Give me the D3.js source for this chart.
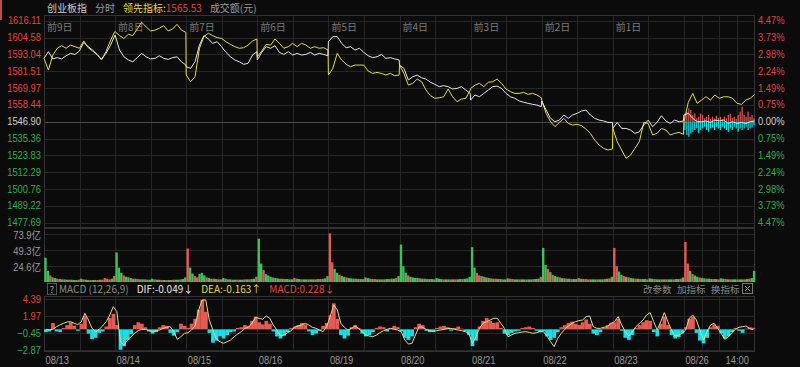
<!DOCTYPE html>
<html><head><meta charset="utf-8">
<script src="https://cdn.jsdelivr.net/npm/d3@7"></script>
<style>html,body{margin:0;padding:0;background:#0b0b0b;overflow:hidden}</style>
</head><body><svg id="c" width="800" height="367"></svg>
<script>
const dates = ["08/13","08/14","08/15","08/16","08/19","08/20","08/21","08/22","08/23","08/26"];
const dayTags = ["前9日","前8日","前7日","前6日","前5日","前4日","前3日","前2日","前1日"];
const priceTicks = [1616.11,1604.58,1593.04,1581.51,1569.97,1558.44,1546.90,1535.36,1523.83,1512.29,1500.76,1489.22,1477.69];
const pctTicks = ["4.47%","3.73%","2.98%","2.24%","1.49%","0.75%","0.00%","0.75%","1.49%","2.24%","2.98%","3.73%","4.47%"];
const prevClose = 1546.90;
const volTicks = [73.9, 49.3, 24.6];
const volTickLabels = ["73.9亿","49.3亿","24.6亿"];
const macdTicks = [4.39, 1.97, -0.45, -2.87];

// 创业板指 (white), 17 samples per day
const indexLine = [
 [1590.3,1594.9,1589.9,1590.8,1589.9,1592.1,1593.7,1593.0,1595.3,1601.3,1598.3,1596.0,1593.0,1589.6,1593.7,1599.0,1605.9],
 [1606.3,1596.0,1591.4,1589.2,1588.0,1590.8,1593.7,1591.4,1589.9,1590.3,1592.1,1590.3,1589.6,1590.8,1591.4,1588.0,1585.7],
 [1584.6,1583.4,1588.0,1599.4,1605.9,1603.6,1600.6,1601.7,1598.3,1594.4,1591.4,1589.2,1588.0,1586.2,1586.9,1592.6,1594.9],
 [1589.2,1594.4,1598.3,1597.2,1599.0,1594.4,1593.0,1594.9,1592.6,1593.7,1592.6,1593.0,1594.4,1592.6,1593.7,1593.0,1592.1],
 [1601.7,1605.2,1605.2,1600.6,1597.6,1598.3,1596.0,1597.2,1594.4,1592.1,1590.8,1591.4,1593.0,1590.3,1590.8,1589.9,1589.2],
 [1585.7,1583.4,1575.5,1577.7,1578.9,1577.0,1576.1,1573.9,1572.5,1570.9,1571.6,1570.9,1569.3,1569.7,1570.9,1568.6,1566.3],
 [1561.7,1565.2,1564.0,1566.3,1568.6,1570.9,1571.3,1569.7,1566.3,1564.0,1562.9,1561.1,1560.2,1559.5,1558.8,1558.3,1557.2],
 [1561.1,1554.9,1549.2,1546.9,1548.0,1551.5,1549.2,1551.5,1552.6,1554.2,1554.9,1551.5,1549.2,1548.0,1547.4,1546.4,1546.4],
 [1542.3,1546.4,1542.3,1542.3,1541.2,1538.9,1540.0,1544.6,1548.0,1543.5,1546.4,1551.0,1547.4,1545.7,1548.0,1546.9,1547.4],
 [1551.5,1552.6,1549.2,1546.9,1546.9,1547.4,1546.4,1548.0,1547.4,1548.0,1545.7,1546.9,1545.7,1546.4,1545.7,1546.9,1547.4]
];
// 领先指标 (yellow)
const leadLine = [
 [1590.3,1582.3,1592.6,1597.2,1599.0,1597.2,1599.4,1598.3,1597.2,1602.2,1597.6,1595.3,1593.0,1589.2,1594.9,1602.2,1608.6],
 [1608.6,1605.9,1604.0,1606.8,1605.9,1610.4,1615.0,1612.0,1609.1,1609.7,1610.9,1612.7,1609.1,1610.4,1613.6,1609.7,1608.1],
 [1578.9,1574.3,1577.7,1597.2,1605.2,1607.5,1605.9,1604.5,1604.0,1601.7,1599.9,1598.3,1597.2,1597.6,1599.4,1602.2,1603.6],
 [1591.4,1595.3,1599.9,1599.4,1603.6,1600.6,1597.2,1598.3,1600.6,1598.3,1600.6,1599.4,1597.2,1598.3,1597.2,1597.6,1596.0],
 [1578.9,1583.4,1593.7,1589.2,1586.2,1584.6,1585.7,1585.7,1585.7,1581.6,1580.0,1580.7,1580.0,1578.9,1580.0,1578.4,1578.9],
 [1585.7,1580.0,1572.0,1573.2,1576.1,1574.3,1568.6,1564.7,1562.9,1563.3,1564.0,1569.3,1564.0,1560.6,1562.4,1562.9,1568.6],
 [1569.7,1572.0,1573.2,1570.9,1573.9,1574.3,1576.1,1573.2,1569.3,1567.5,1566.3,1566.3,1567.0,1565.6,1566.3,1565.2,1563.3],
 [1561.7,1552.6,1546.9,1543.5,1546.4,1549.2,1545.7,1544.6,1545.1,1544.2,1541.9,1538.9,1534.3,1530.9,1528.6,1527.5,1528.2],
 [1542.3,1533.2,1527.5,1521.8,1524.0,1528.6,1533.2,1546.4,1545.7,1537.8,1538.9,1542.3,1541.2,1537.8,1538.9,1539.6,1538.2],
 [1546.9,1560.2,1566.3,1559.5,1561.7,1564.0,1561.7,1565.2,1562.9,1564.0,1564.0,1562.9,1559.5,1558.8,1561.7,1562.9,1565.53]
];
// today's buy/sell strength bars (points from prev close)
const todayBuy = [3.4,6.9,9.1,8.0,4.6,5.7,2.3,3.4,5.7,4.6,2.3,3.4,4.6,1.8,3.4,2.3,4.1,2.7,3.4,1.8,3.4,2.3,4.6,5.5,2.7,3.4,1.8,4.6,6.9,10.3,4.6,3.4,6.9,3.4,4.6,2.3];
const todaySell = [5.7,9.1,10.3,8.0,6.9,5.7,4.6,8.0,5.7,4.6,3.4,5.7,6.9,4.6,4.1,5.7,3.4,4.6,5.7,3.4,4.6,5.7,6.9,4.6,5.7,3.4,4.6,6.9,4.6,5.7,4.6,3.4,5.7,4.6,4.1,2.3];

// turnover (亿), 30 samples per day
const volume = [
 [37,17,10,7,6,5,4.5,4,4,3.5,3.5,3.5,3,3,3.5,5,4,3.5,3,3,3,3,3,3.5,3.5,6,5,4,5,9],
 [45,22,14,10,8,7,6,5,5,4.5,4,4,4,3.5,3.5,5,4,3.5,3.5,3,3,3,3,3,3.5,3.5,3.5,4,4.5,7],
 [51,22,13,9,7,12,14,10,7,6,5,5,4.5,4,4,6,5,4,4,3.5,3.5,3.5,3.5,3.5,4,4,4,4.5,5,8],
 [66,28,18,12,10,8,7,6,5.5,5,5,4.5,4.5,4,4,6,5,4.5,4,4,4,4,4,4,4,4.5,4.5,5,5.5,9],
 [74,30,20,14,11,9,8,7,6,5.5,5,5,4.5,4.5,4.5,7,6,5,4.5,4.5,4,4,4,4,4.5,4.5,5,5,6,9],
 [57,24,14,10,8,7,6,6,5.5,5,5,4.5,4.5,4.5,4,6,5,4.5,4,4,4,4,4,4,4,4.5,4.5,5,5.5,8],
 [53,22,14,10,9,8,7,6,5.5,5,5,4.5,4.5,4,4,5.5,5,4.5,4,4,4,4,4,4,4,4,4.5,4.5,5,8],
 [52,26,20,15,11,9,8,7,6,5.5,5,5,4.5,4.5,4.5,6,5,4.5,4.5,4,4,4,4,4,4,4,4.5,5,5.5,8],
 [52,24,16,11,9,8,7,6,5.5,5,5,4.5,4.5,4.5,4,5.5,5,4.5,4,4,4,4,4,4,4,4,4.5,4.5,5,7],
 [61,28,17,12,10,8,7,6,5.5,5,5,4.5,4.5,4.5,4,5.5,5,4.5,4,4,4,4,4,4,4,4,4.5,5,6,17]
];
const volDir = [
 "GGRGGRGRGGRGGGRGRGGRGGRGRRRRGR",
 "GGGRGGRGGRGGRGGGRGGRGRGGRGGRGG",
 "RGGRRGGGRGGRGGRGGRGGGRGGRGRGGR",
 "GGRGGGRGGRGRGGGRGGRGGRGGGRGRGG",
 "RRGGRGGRGGGRGGRGGRGRGGRGGRGGRG",
 "GGGRGGGGRGGRGGRGGGRGGRGRGGRGGG",
 "GGRRGRGGRGRGGRGGRRGGRGGRGGRGGR",
 "GGRGRGGRGGRGRGGRGGRRGGGRGGRGRG",
 "RRGGRGRGGRGRGGRGGRGGRGRGGRGGRG",
 "RRGRGGRGGRGGRGRGGRGRGGRGGRGRGG"
];

// MACD histogram and DIF line, 20 samples per day
const macdHist = [
 [-0.4,-0.3,0.9,-0.3,-0.4,0.2,0.6,1.0,0.5,-0.2,0.8,1.9,-0.6,-1.4,-1.2,-0.5,-0.3,0.4,1.6,2.2],
 [0.6,-2.9,-2.4,-1.5,-0.7,0.6,1.0,0.8,0.3,-0.3,-0.6,-0.4,0.3,0.6,0.5,-0.5,-0.9,-0.4,0.8,0.5],
 [0.2,0.8,1.5,2.8,4.2,2.5,-0.5,-1.9,-1.6,-1.0,-1.3,-0.8,-0.4,-0.3,0.2,0.3,0.6,0.5,1.2,1.8],
 [1.0,0.7,1.2,0.8,-0.3,-1.0,-1.3,-0.9,-0.4,0.2,0.4,0.6,0.9,0.7,-0.3,-0.8,-0.6,-0.2,0.5,0.9],
 [2.0,3.7,1.5,-0.8,-1.3,-0.9,0.3,0.6,0.2,-0.6,-1.0,-0.8,-0.4,0.2,0.4,0.3,-0.3,0.2,0.5,0.3],
 [-0.3,-1.2,-1.5,-1.0,0.3,0.8,0.6,-0.2,-0.4,-0.3,0.2,0.4,0.5,0.3,-0.2,0.2,0.4,0.1,-0.3,-0.8],
 [-2.4,-1.6,0.4,1.2,1.6,1.2,0.9,1.0,0.2,-0.6,-0.8,-0.5,-0.3,-0.2,0.2,0.3,0.4,0.2,-0.2,-0.4],
 [-0.3,-1.0,-1.5,-1.2,-0.4,0.3,0.6,0.9,1.1,0.8,0.6,1.0,1.4,0.8,-0.6,-0.8,-0.4,0.2,0.6,0.9],
 [1.0,1.5,-0.2,-1.2,-1.5,-0.8,0.2,0.6,1.0,1.3,1.2,-0.4,-1.0,0.8,1.8,0.6,-0.8,-1.3,-1.1,-0.6],
 [0.3,1.5,1.8,-0.5,-1.6,-2.0,-1.2,0.3,0.7,0.5,-0.6,-1.3,-1.0,-0.4,0.2,-0.2,-0.5,0.1,0.3,0.23]
];
const macdDif = [
 [0,-0.05,0,0.38,0.62,0.86,1.05,1.09,0.86,0.67,1.09,2.28,1.33,0.14,-0.33,0,0.48,1.09,2.04,3.23],
 [2.52,-1.76,-2.23,-1.52,-1.05,-0.57,-0.19,0,0,-0.19,-0.33,-0.19,-0.1,0.14,0.29,0.38,-0.33,-1.43,-1.05,-0.57],
 [-0.48,-0.1,0.48,2.76,4.18,4.18,1.33,-0.1,-1.43,-1.76,-2.0,-1.76,-1.52,-1.05,-0.67,-0.33,0.14,0.29,0.86,1.71],
 [1.57,1.43,1.9,1.57,0.62,-0.1,-0.95,-0.81,-0.48,-0.19,0.29,0.48,0.62,0.86,0.62,0.29,0.14,-0.1,-0.33,0.38],
 [1.81,3.47,2.76,0.86,0.29,-0.1,0.14,0.48,0.14,-0.33,-0.81,-0.95,-1.05,-0.81,-0.48,-0.19,0,0.14,0,-0.1],
 [-0.33,-1.52,-2.09,-2.0,-0.81,0.38,0.29,0,-0.19,-0.33,-0.19,-0.1,0,0.1,0.14,0,-0.1,-0.19,-0.33,-0.57],
 [-2.0,-1.05,0.14,0.86,1.09,1.33,1.57,1.57,0.86,0.14,-1.05,-0.81,-0.57,-0.48,-0.38,-0.33,-0.43,-0.57,-0.48,-0.33],
 [-0.33,-0.95,-1.76,-2.47,-1.28,-0.57,0,0.48,0.86,1.09,1.24,1.33,1.81,1.9,0.38,0.14,0.14,0.29,0.38,0.86],
 [1.09,1.81,0.62,-0.33,-0.95,-0.33,0.38,0.86,1.33,2.04,2.38,1.09,-0.1,1.09,2.38,1.09,-0.1,-0.95,-0.81,-0.57],
 [-0.1,1.57,2.04,1.33,-0.1,-1.52,-0.33,0.62,0.86,0.14,-0.57,-1.43,-1.05,-0.48,0,0.29,0.38,0.48,0.1,-0.049]
];

const C = {bg:"#0b0b0b", grid:"#262626", base:"#4a4a4a", frame:"#333", red:"#e0453f", green:"#2fae4c",
  gray:"#9a9a9a", white:"#e6e6e6", yellow:"#e6dc3c", cyan:"#19e0e8", volRed:"#e55a55", volGreen:"#3cc25a"};
const FONT = "'Noto Sans CJK SC','Noto Sans',sans-serif";
const NUMFONT = "'Liberation Sans','Noto Sans CJK SC',sans-serif";
const L = 44, R = 755;
const svg = d3.select("#c");
svg.append("rect").attr("width",800).attr("height",367).attr("fill",C.bg);

const x = d3.scaleLinear().domain([0,10]).range([L,R]);
const yP = d3.scaleLinear().domain([1477.69,1616.11]).range([222.7,20.7]);
const yV = d3.scaleLinear().domain([0,73.9]).range([282,233.5]);
const yM = d3.scaleLinear().domain([-2.87,4.39]).range([349.5,298.5]);

const panels = [[15,228],[228,282],[296,352]];
const g = svg.append("g");
const vlines = [];
for (let d=0; d<9; d++){ vlines.push(d, d+0.5); }
vlines.push(9, 9.25, 9.5, 9.75);
panels.forEach(([t,b])=>{
  g.selectAll(null).data(vlines).enter().append("line")
    .attr("x1",d=>Math.round(x(d))+0.5).attr("x2",d=>Math.round(x(d))+0.5)
    .attr("y1",t).attr("y2",b).attr("stroke",C.grid).attr("stroke-width",1);
});
g.selectAll(null).data(priceTicks).enter().append("line")
  .attr("x1",L).attr("x2",R).attr("y1",d=>Math.round(yP(d))+0.5).attr("y2",d=>Math.round(yP(d))+0.5)
  .attr("stroke",d=>d===prevClose?C.base:C.grid);
g.selectAll(null).data(volTicks).enter().append("line")
  .attr("x1",L).attr("x2",R).attr("y1",d=>Math.round(yV(d))+0.5).attr("y2",d=>Math.round(yV(d))+0.5)
  .attr("stroke",C.grid);
g.selectAll(null).data(macdTicks).enter().append("line")
  .attr("x1",L).attr("x2",R).attr("y1",d=>Math.round(yM(d))+0.5).attr("y2",d=>Math.round(yM(d))+0.5)
  .attr("stroke",C.grid);
panels.forEach(([t,b])=>{
  g.append("rect").attr("x",L+0.5).attr("y",t+0.5).attr("width",R-L-1).attr("height",b-t-1)
   .attr("fill","none").attr("stroke",C.frame);
});

svg.selectAll(null).data(dayTags).enter().append("text")
  .attr("x",(d,i)=>x(i)+3).attr("y",31).text(d=>d)
  .attr("fill","#7a7a7a").attr("font-size",10).attr("font-family",FONT);

function flat(arr){ const out=[]; arr.forEach((day,d)=>{ const n=day.length; day.forEach((v,i)=>out.push({t:d+i/(n-1)*0.995,v})); }); return out; }
const line = d3.line().x(d=>x(d.t)).y(d=>yP(d.v));

const bw = 1/ todayBuy.length;
svg.selectAll(null).data(todayBuy).enter().append("rect")
  .attr("x",(d,i)=>x(9+(i+0.5)*bw)-0.6).attr("width",1.2)
  .attr("y",d=>yP(prevClose+d)).attr("height",d=>yP(prevClose)-yP(prevClose+d)).attr("fill",C.volRed);
svg.selectAll(null).data(todaySell).enter().append("rect")
  .attr("x",(d,i)=>x(9+(i+0.5)*bw)-0.6).attr("width",1.2)
  .attr("y",yP(prevClose)).attr("height",d=>yP(prevClose-d)-yP(prevClose)).attr("fill",C.cyan);

svg.append("path").datum(flat(leadLine)).attr("d",line).attr("fill","none").attr("stroke",C.yellow).attr("stroke-width",1);
svg.append("path").datum(flat(indexLine)).attr("d",line).attr("fill","none").attr("stroke",C.white).attr("stroke-width",1);

const vb = [];
volume.forEach((day,d)=>day.forEach((v,i)=>vb.push({t:d+i/day.length, v, up:volDir[d][i]==="R", n:day.length})));
svg.selectAll(null).data(vb).enter().append("rect")
  .attr("x",d=>x(d.t)+0.3).attr("width",d=>x(1/d.n)-x(0))
  .attr("y",d=>yV(d.v)).attr("height",d=>yV(0)-yV(d.v))
  .attr("fill",d=>d.up?C.volRed:C.volGreen);

const mb = [];
macdHist.forEach((day,d)=>day.forEach((v,i)=>mb.push({t:d+(i+0.5)/day.length, v, n:day.length})));
svg.selectAll(null).data(mb).enter().append("rect")
  .attr("x",d=>x(d.t-0.5/d.n)).attr("width",d=>x(1/d.n)-x(0)+0.2)
  .attr("y",d=>d.v>0?yM(d.v):yM(0)).attr("height",d=>Math.abs(yM(d.v)-yM(0)))
  .attr("fill",d=>d.v>0?C.volRed:C.cyan);
const md = [];
macdDif.forEach((day,d)=>day.forEach((v,i)=>md.push({t:d+(i+0.5)/day.length, v})));
svg.append("path").datum(md).attr("d",d3.line().x(d=>x(d.t)).y(d=>yM(d.v)))
  .attr("fill","none").attr("stroke","#e2dc8c").attr("stroke-width",1);

function condense(sel, k){ sel.each(function(){ const w=this.getComputedTextLength(); this.setAttribute("textLength", (w*k).toFixed(1)); this.setAttribute("lengthAdjust","spacingAndGlyphs"); }); }
function styleAxis(sel, fs, k){ sel.select(".domain").remove(); const t=sel.selectAll("text").attr("font-family",NUMFONT).attr("font-size",fs||10.5); condense(t,k||0.85); }
const colorFor = v => v>prevClose+0.001?C.red:(v<prevClose-0.001?C.green:"#cfcfcf");
svg.append("g").attr("transform",`translate(${L},-0.5)`)
  .call(d3.axisLeft(yP).tickValues(priceTicks).tickFormat(d3.format(".2f")).tickSize(0).tickPadding(3))
  .call(s=>styleAxis(s,11)).call(s=>s.selectAll("text").attr("fill",d=>colorFor(d)));
svg.append("g").attr("transform",`translate(${R},-0.5)`)
  .call(d3.axisRight(yP).tickValues(priceTicks).tickFormat((d,i)=>pctTicks[i]).tickSize(0).tickPadding(3))
  .call(s=>styleAxis(s,11)).call(s=>s.selectAll("text").attr("fill",d=>colorFor(d)));
svg.append("g").attr("transform",`translate(${L},1.5)`)
  .call(d3.axisLeft(yV).tickValues(volTicks).tickFormat((d,i)=>volTickLabels[i]).tickSize(0).tickPadding(3))
  .call(s=>styleAxis(s,10.5,0.9)).call(s=>s.selectAll("text").attr("fill","#9a9a9a"));
svg.append("g").attr("transform",`translate(${L},0)`)
  .call(d3.axisLeft(yM).tickValues(macdTicks).tickFormat(d3.format(".2f")).tickSize(0).tickPadding(3))
  .call(s=>styleAxis(s,11)).call(s=>s.selectAll("text").attr("fill",d=>d>0?C.red:C.green));
const dateTicks = d3.range(10);
svg.append("g").attr("transform","translate(0,352)")
  .call(d3.axisBottom(x).tickValues(dateTicks).tickFormat(i=>dates[i]).tickSize(0).tickPadding(4))
  .call(s=>styleAxis(s,11)).call(s=>s.selectAll("text").attr("fill","#9a9a9a").attr("text-anchor","start").attr("dx",1));
const t14 = svg.append("text").attr("x",x(9.75)).attr("y",364).attr("text-anchor","middle").text("14:00")
  .attr("fill","#9a9a9a").attr("font-size",11).attr("font-family",NUMFONT);
condense(t14,0.85);

const hdr = svg.append("text").attr("x",47).attr("y",12).attr("font-size",10).attr("font-family",FONT);
hdr.append("tspan").text("创业板指").attr("fill","#cfcfcf");
hdr.append("tspan").text("分时").attr("fill","#9a9a9a").attr("dx",8);
hdr.append("tspan").text("领先指标:").attr("fill",C.yellow).attr("dx",8);
hdr.append("tspan").text(d3.format(".2f")(leadLine[9][16])).attr("fill",C.red);
hdr.append("tspan").text("成交额(元)").attr("fill","#9a9a9a").attr("dx",8);
svg.append("rect").attr("x",0).attr("y",0).attr("width",2).attr("height",20).attr("fill","#c0503a");

svg.append("rect").attr("x",47.5).attr("y",283.5).attr("width",9).attr("height",11).attr("fill","none").attr("stroke","#555");
svg.append("text").attr("x",52).attr("y",293).attr("text-anchor","middle").text("?").attr("fill","#aaa").attr("font-size",9).attr("font-family",FONT);
const mh = svg.append("text").attr("x",59).attr("y",293).attr("font-size",10).attr("font-family",FONT);
mh.append("tspan").text("MACD (12,26,9)").attr("fill","#8a8a8a");
mh.append("tspan").text("DIF:-0.049↓").attr("fill","#e6e6e6").attr("dx",8);
mh.append("tspan").text("DEA:-0.163↑").attr("fill",C.yellow).attr("dx",8);
mh.append("tspan").text("MACD:0.228↓").attr("fill",C.red).attr("dx",8);
[["改参数",643],["加指标",677],["换指标",711]].forEach(([t,xx])=>svg.append("text").attr("x",xx).attr("y",293)
  .text(t).attr("fill","#8a8a8a").attr("font-size",9.5).attr("font-family",FONT));
svg.append("rect").attr("x",742.5).attr("y",283.5).attr("width",10).attr("height",10).attr("fill","none").attr("stroke","#777");
svg.append("path").attr("d","M745,286L750,291M750,286L745,291").attr("stroke","#999");
</script></body></html>
